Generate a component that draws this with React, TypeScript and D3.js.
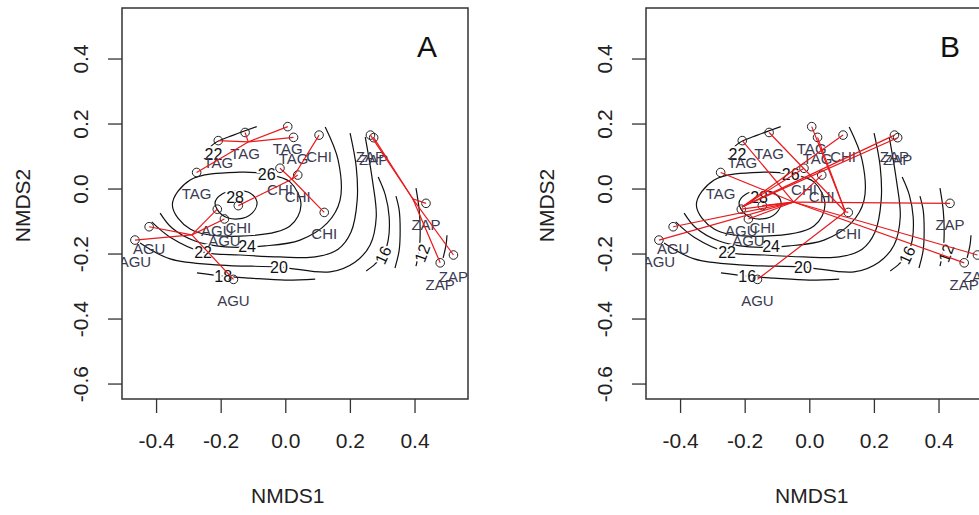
import React from "react";
import * as d3 from "d3";

const W = 979;
const H = 515;

// axes
const X_DOMAIN = [-0.507, 0.564];
const Y_DOMAIN = [-0.646, 0.557];
const X_TICKS = [-0.4, -0.2, 0.0, 0.2, 0.4];
const Y_TICKS = [0.4, 0.2, 0.0, -0.2, -0.4, -0.6];

// site scores (NMDS1, NMDS2) and their group
const SITE_GROUP = ["TAG", "TAG", "TAG", "TAG", "TAG", "CHI", "CHI", "CHI", "CHI", "CHI",
  "AGU", "AGU", "AGU", "AGU", "AGU", "ZAP", "ZAP", "ZAP", "ZAP", "ZAP"];
const SITE_X = [-0.209, -0.126, 0.006, 0.024, -0.276, -0.018, 0.103, 0.037, -0.147, 0.119,
  -0.212, -0.19, -0.423, -0.467, -0.162, 0.262, 0.272, 0.434, 0.519, 0.478];
const SITE_Y = [0.149, 0.174, 0.192, 0.159, 0.051, 0.064, 0.166, 0.043, -0.051, -0.072,
  -0.062, -0.092, -0.116, -0.157, -0.278, 0.166, 0.158, -0.044, -0.203, -0.227];

// panel B: spider centres and which centre each site joins
const HUB_B_X = [-0.05, 0.11, -0.21];
const HUB_B_Y = [-0.04, -0.07, -0.055];
const SITE_HUB_B = [0, 1, 1, 1, 0, 2, 2, 0, 0, 1, 0, 0, 0, 0, 1, 2, 2, 0, 0, 0];

// fitted surface contours
const C28: [number, number][] = [[-0.219, -0.043], [-0.197, -0.015], [-0.154, -0.006], [-0.111, -0.012],
  [-0.089, -0.04], [-0.104, -0.074], [-0.148, -0.092], [-0.197, -0.08]];
const C26: [number, number][] = [[-0.351, -0.049], [-0.296, 0.028], [-0.141, 0.052], [-0.061, 0.046],
  [0.013, 0.022], [0.047, -0.049], [0.013, -0.114], [-0.141, -0.145], [-0.296, -0.123]];
const C24: [number, number][] = [[0.122, 0.191], [0.162, 0.089], [0.168, -0.034], [0.128, -0.105],
  [0.044, -0.157], [-0.064, -0.175], [-0.188, -0.178], [-0.281, -0.16], [-0.352, -0.12], [-0.389, -0.074]];
const C22: [number, number][] = [[-0.415, -0.101], [-0.358, -0.148], [-0.256, -0.194], [-0.141, -0.203],
  [-0.018, -0.209], [0.091, -0.209], [0.162, -0.185], [0.202, -0.132], [0.221, -0.034], [0.218, 0.068], [0.199, 0.172]];
const C22_TOP: [number, number][] = [[-0.245, 0.118], [-0.219, 0.142], [-0.162, 0.166], [-0.09, 0.192]];
const C20: [number, number][] = [[-0.451, -0.166], [-0.358, -0.215], [-0.203, -0.234], [-0.021, -0.24],
  [0.137, -0.255], [0.214, -0.225], [0.261, -0.172], [0.28, -0.086], [0.268, 0.028], [0.246, 0.16]];
const C18: [number, number][] = [[-0.275, -0.258], [-0.194, -0.268], [-0.111, -0.274], [-0.002, -0.28], [0.091, -0.277]];
const C16: [number, number][] = [[0.249, -0.252], [0.276, -0.231], [0.301, -0.203], [0.317, -0.157],
  [0.32, -0.086], [0.308, -0.018], [0.286, 0.037]];
const C14: [number, number][] = [[0.338, -0.243], [0.351, -0.188], [0.354, -0.126], [0.351, -0.065], [0.341, -0.022]];
const C12: [number, number][] = [[0.403, -0.237], [0.413, -0.188], [0.416, -0.132], [0.413, -0.065], [0.403, 0.003]];
const C10: [number, number][] = [[0.487, -0.212], [0.496, -0.172], [0.499, -0.142]];

const CLOSED = [C28, C26];
const OPEN = [C24, C22, C22_TOP, C20, C18, C16, C14, C12, C10];

const LEVEL_TEXT = ["28", "26", "24", "22", "22", "20", "18", "16", "12"];
const LEVEL_X = [-0.157, -0.059, -0.12, -0.256, -0.224, -0.021, -0.194, 0.301, 0.422];
const LEVEL_Y = [-0.025, 0.046, -0.175, -0.194, 0.108, -0.24, -0.268, -0.203, -0.197];
const LEVEL_ROT = [0, 0, 0, 0, 0, 0, 0, -65, -70];

const FONT = "'Liberation Sans', Arial, sans-serif";
const RED = "#e8191c";

function Panel({ dx, letter, mode }: { dx: number; letter: string; mode: "A" | "B" }) {
  const x = d3.scaleLinear().domain(X_DOMAIN).range([122 + dx, 468 + dx]);
  const y = d3.scaleLinear().domain(Y_DOMAIN).range([399, 8]);
  const [x0, x1] = x.range();
  const [y0, y1] = [y.range()[1], y.range()[0]];
  const clipId = "clip" + letter;

  const openLine = d3.line<[number, number]>().x((d) => x(d[0])).y((d) => y(d[1])).curve(d3.curveCatmullRom);
  const closedLine = d3.line<[number, number]>().x((d) => x(d[0])).y((d) => y(d[1])).curve(d3.curveCatmullRomClosed);

  const idx = d3.range(SITE_X.length);
  let spokes: { sx: number; sy: number; hx: number; hy: number }[] = [];
  if (mode === "A") {
    const groups = d3.group(idx, (i) => SITE_GROUP[i]);
    groups.forEach((members) => {
      const cx = d3.mean(members, (i) => SITE_X[i])!;
      const cy = d3.mean(members, (i) => SITE_Y[i])!;
      members.forEach((i) => spokes.push({ sx: SITE_X[i], sy: SITE_Y[i], hx: cx, hy: cy }));
    });
  } else {
    spokes = idx.map((i) => ({ sx: SITE_X[i], sy: SITE_Y[i], hx: HUB_B_X[SITE_HUB_B[i]], hy: HUB_B_Y[SITE_HUB_B[i]] }));
  }

  const titleX = x(0) + 2;

  return (
    <g>
      <defs>
        <clipPath id={clipId}>
          <rect x={x0} y={y0} width={x1 - x0} height={y1 - y0} />
        </clipPath>
      </defs>
      <g clipPath={`url(#${clipId})`}>
        {CLOSED.map((c, i) => (
          <path key={"c" + i} d={closedLine(c)!} fill="none" stroke="#111" strokeWidth={1.2} />
        ))}
        {OPEN.map((c, i) => (
          <path key={"o" + i} d={openLine(c)!} fill="none" stroke="#111" strokeWidth={1.2} />
        ))}
        {LEVEL_TEXT.map((t, i) => (
          <text
            key={"l" + i}
            transform={`translate(${x(LEVEL_X[i])},${y(LEVEL_Y[i])}) rotate(${LEVEL_ROT[i]})`}
            textAnchor="middle"
            dy="0.36em"
            fontSize={16}
            fontFamily={FONT}
            fill="#111"
            stroke="#fff"
            strokeWidth={4}
            paintOrder="stroke"
          >
            {mode === "B" && t === "18" ? "16" : t}
          </text>
        ))}
        {idx.map((i) => (
          <text
            key={"s" + i}
            x={x(SITE_X[i])}
            y={y(SITE_Y[i]) + 27}
            textAnchor="middle"
            fontSize={15}
            fontFamily={FONT}
            fill="#3a3a50"
          >
            {SITE_GROUP[i]}
          </text>
        ))}
        {idx.map((i) => (
          <circle key={"p" + i} cx={x(SITE_X[i])} cy={y(SITE_Y[i])} r={4.3} fill="none" stroke="#222" strokeWidth={1} />
        ))}
        {spokes.map((s, i) => (
          <line key={"r" + i} x1={x(s.hx)} y1={y(s.hy)} x2={x(s.sx)} y2={y(s.sy)} stroke={RED} strokeWidth={1.2} />
        ))}
      </g>
      <rect x={x0} y={y0} width={x1 - x0} height={y1 - y0} fill="none" stroke="#333" strokeWidth={1.5} />
      {X_TICKS.map((t) => (
        <g key={"xt" + t}>
          <line x1={x(t)} x2={x(t)} y1={y1} y2={y1 + 14} stroke="#333" strokeWidth={1.3} />
          <text x={x(t)} y={448} textAnchor="middle" fontSize={21} fontFamily={FONT} fill="#222">
            {d3.format(".1f")(t).replace("−", "-")}
          </text>
        </g>
      ))}
      {Y_TICKS.map((t) => (
        <g key={"yt" + t}>
          <line x1={x0 - 14} x2={x0} y1={y(t)} y2={y(t)} stroke="#333" strokeWidth={1.3} />
          <text
            transform={`translate(${x0 - 34},${y(t)}) rotate(-90)`}
            textAnchor="middle"
            fontSize={21}
            fontFamily={FONT}
            fill="#222"
          >
            {d3.format(".1f")(t).replace("−", "-")}
          </text>
        </g>
      ))}
      <text x={titleX} y={503} textAnchor="middle" fontSize={21} fontFamily={FONT} fill="#222">
        NMDS1
      </text>
      <text
        transform={`translate(${x0 - 92},${(y0 + y1) / 2 + 2}) rotate(-90)`}
        textAnchor="middle"
        fontSize={21}
        fontFamily={FONT}
        fill="#222"
      >
        NMDS2
      </text>
      <text x={x0 + (mode === "A" ? 305 : 304)} y={57} textAnchor="middle" fontSize={30} fontFamily={FONT} fill="#111">
        {letter}
      </text>
    </g>
  );
}

export default function App() {
  return (
    <svg width={W} height={H} style={{ position: "absolute", left: 0, top: 0, background: "#fff" }}>
      <rect width={W} height={H} fill="#fff" />
      <Panel dx={0} letter="A" mode="A" />
      <Panel dx={524} letter="B" mode="B" />
    </svg>
  );
}
